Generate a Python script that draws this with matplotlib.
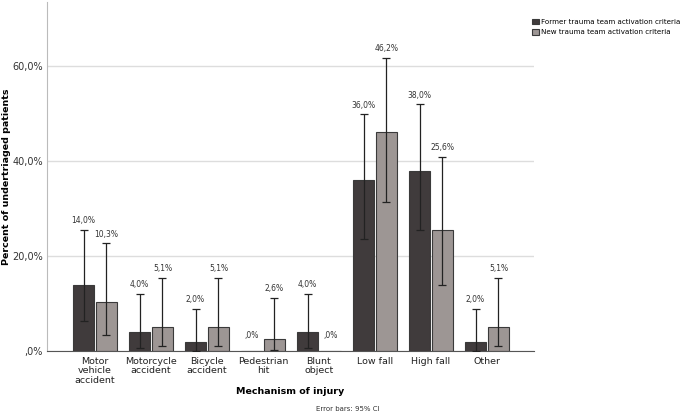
import matplotlib.pyplot as plt
import numpy as np

categories = ["Motor\nvehicle\naccident", "Motorcycle\naccident", "Bicycle\naccident",
              "Pedestrian\nhit", "Blunt\nobject", "Low fall", "High fall", "Other"]

former = [14.0, 4.0, 2.0, 0.0, 4.0, 36.0, 38.0, 2.0]
former_lo = [6.4, 0.8, 0.1, 0.0, 0.8, 23.7, 25.5, 0.1]
former_hi = [25.6, 12.1, 9.0, 0.0, 12.1, 49.8, 51.9, 8.9]

new = [10.3, 5.1, 5.1, 2.6, 0.0, 46.2, 25.6, 5.1]
new_lo = [3.5, 1.1, 1.1, 0.4, 0.0, 31.3, 14.0, 1.1]
new_hi = [22.7, 15.4, 15.4, 11.3, 0.0, 61.7, 40.8, 15.4]

yticks = [0, 20, 40, 60]

FORMER_COLOR = "#403b3c"
NEW_COLOR = "#9d9694"
EDGE = "#3a3a3a"


def pct(v):
    # SPSS style: comma decimal, no leading zero
    s = f"{v:.1f}".replace(".", ",")
    if s.startswith("0,"):
        s = s[1:]
    return s + "%"


fig = plt.figure(figsize=(6.85, 4.13), dpi=100)
ax = fig.add_axes([0.0686, 0.149, 0.711, 0.847])

x = np.arange(len(categories))
off = 0.205
w = 0.375

series = [
    (former, former_lo, former_hi, FORMER_COLOR, -off, "Former trauma team activation criteria"),
    (new, new_lo, new_hi, NEW_COLOR, off, "New trauma team activation criteria"),
]

for vals, lo, hi, col, dx, lab in series:
    vals = np.array(vals)
    lo = np.array(lo)
    hi = np.array(hi)
    ax.bar(x + dx, vals, width=w, color=col, edgecolor=EDGE, linewidth=0.8,
           label=lab, zorder=2)
    has_err = hi > 0
    ax.errorbar((x + dx)[has_err], vals[has_err],
                yerr=[vals[has_err] - lo[has_err], hi[has_err] - vals[has_err]],
                fmt="none", ecolor="#222222", elinewidth=0.9, capsize=3,
                capthick=0.9, zorder=3)
    for xi, v, h in zip(x + dx, vals, hi):
        top = h if h > 0 else v
        pad = 3.5 if h > 0 else 8
        ax.annotate(pct(v), (xi, top), xytext=(0, pad), textcoords="offset points",
                    ha="center", va="bottom", fontsize=5.5, color="#333333")

ax.set_xlim(-0.857, 7.84)
ax.set_ylim(0, 73.5)
ax.set_yticks(yticks)
ax.set_yticklabels([pct(t) for t in yticks], fontsize=7, color="#333333")
ax.set_xticks(x)
ax.set_xticklabels(categories, fontsize=6.8, color="#222222", linespacing=1.05,
                   va="top")
ax.tick_params(length=0)
ax.tick_params(axis="x", pad=4)
ax.tick_params(axis="y", pad=3)
ax.grid(axis="y", color="#dddddd", linewidth=1.0, zorder=0)
ax.set_axisbelow(True)

for s in ["top", "right"]:
    ax.spines[s].set_visible(False)
ax.spines["left"].set_color("#bbbbbb")
ax.spines["bottom"].set_color("#555555")

ax.set_ylabel("Percent of undertriaged patients", fontsize=6.8, fontweight="bold")
ax.yaxis.set_label_coords(-0.074, 0.5)
ax.set_xlabel("Mechanism of injury", fontsize=6.8, fontweight="bold")
ax.xaxis.set_label_coords(0.5, -0.102)

fig.legend(loc="upper left", bbox_to_anchor=(0.777, 0.955), fontsize=5.1,
           frameon=False, handlelength=0.9, handleheight=0.9, handletextpad=0.3,
           borderaxespad=0, borderpad=0, labelspacing=0.55)

fig.text(0.508, 0.004, "Error bars: 95% CI", fontsize=5, ha="center", color="#333333")

fig.savefig("out.png", dpi=100)
